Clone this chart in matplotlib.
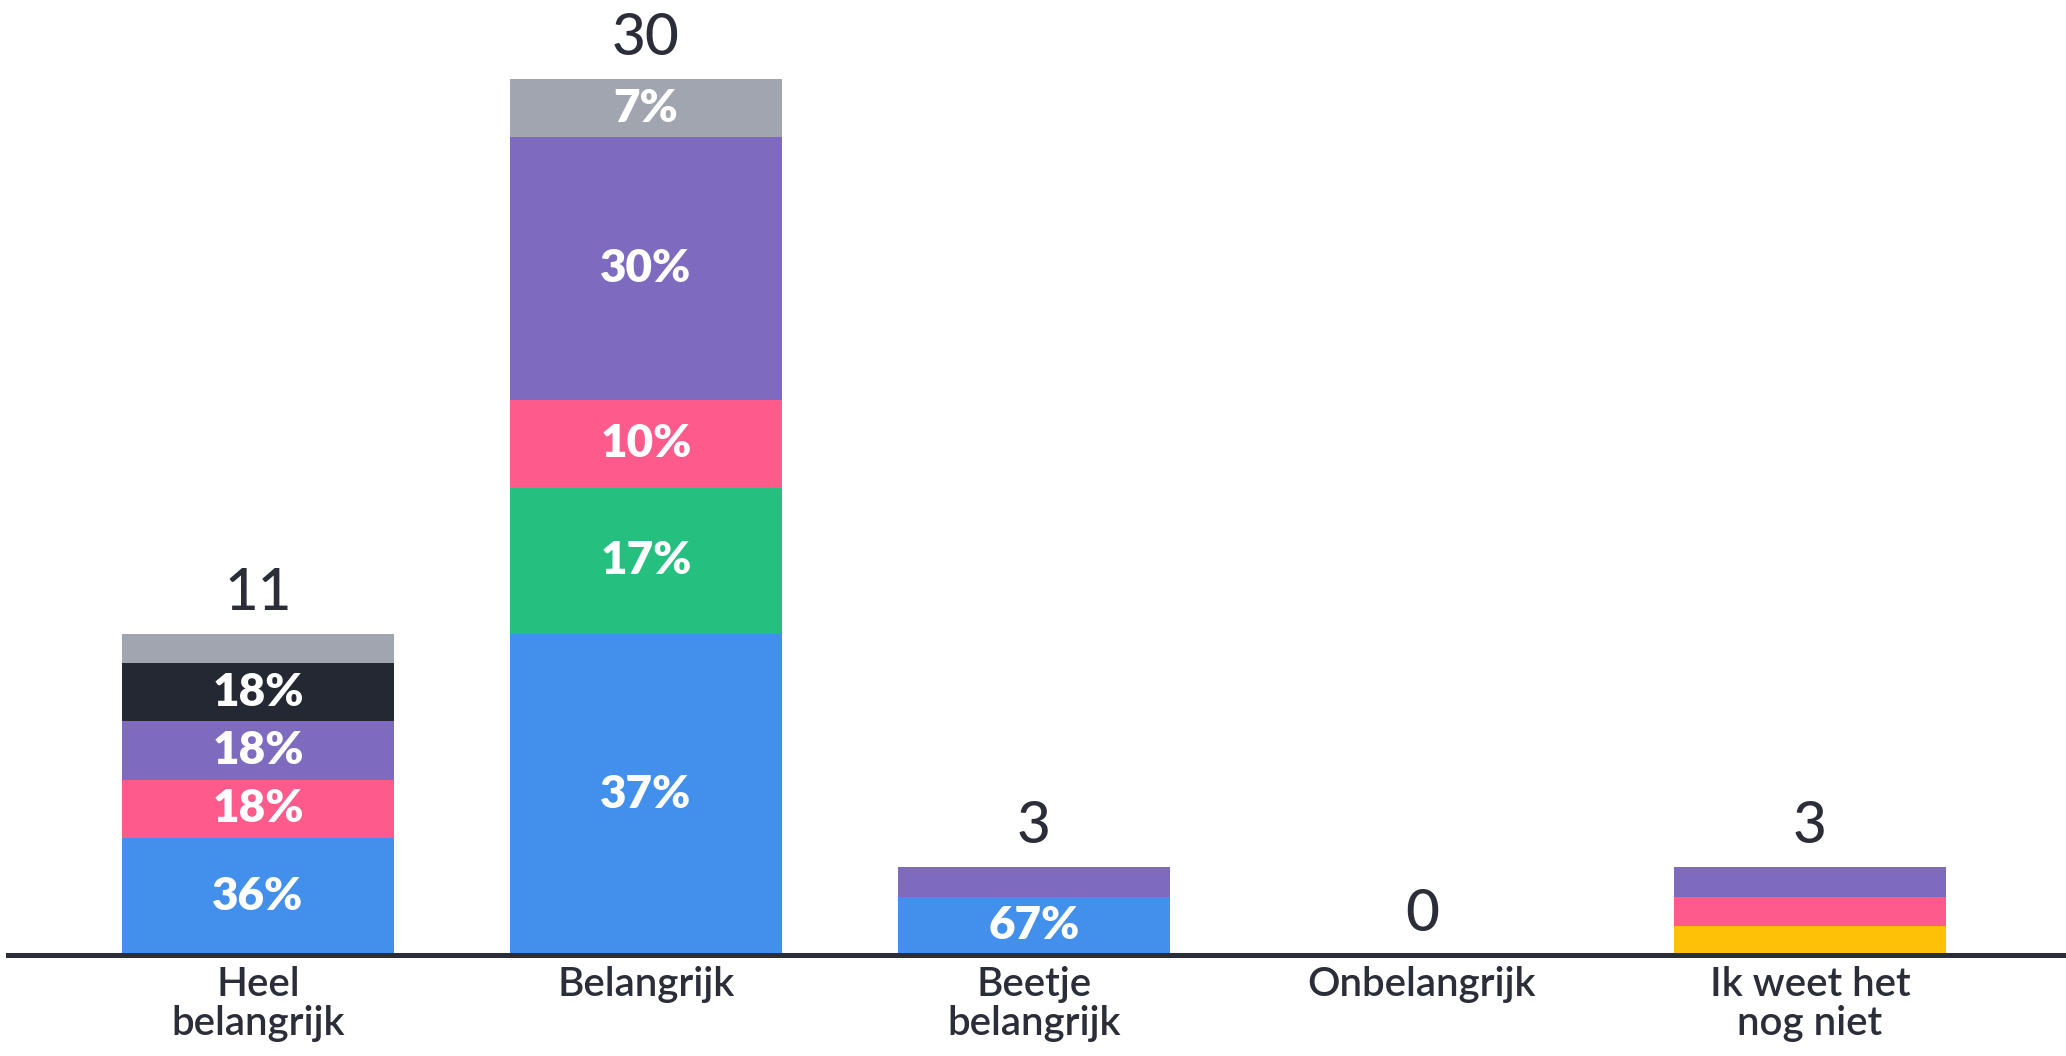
import matplotlib.pyplot as plt
import numpy as np

plt.rcParams['font.family'] = ['Lato', 'DejaVu Sans']

categories = ['Heel\nbelangrijk', 'Belangrijk', 'Beetje\nbelangrijk', 'Onbelangrijk', 'Ik weet het\nnog niet']

# answer counts per colour group, bottom to top
yellow = [0, 0, 0, 0, 1]
blue = [4, 11, 2, 0, 0]
green = [0, 5, 0, 0, 0]
pink = [2, 3, 0, 0, 1]
purple = [2, 9, 1, 0, 1]
black = [2, 0, 0, 0, 0]
gray = [1, 2, 0, 0, 0]

series = [yellow, blue, green, pink, purple, black, gray]
colors = ['#FFC107', '#4290EC', '#25C07F', '#FF5A8C', '#7E6BC0', '#232833', '#A0A5AF']

totals = np.sum(series, axis=0)
x = np.arange(len(categories))

fig = plt.figure(figsize=(20.66, 10.56), dpi=100)
ax = fig.add_axes([8/2066, 101/1056, 1 - 8/2066, 1 - 101/1056])

bottom = np.zeros(len(categories))
for vals, col in zip(series, colors):
    vals = np.array(vals)
    ax.bar(x, vals, 0.7, bottom=bottom, color=col, zorder=1)
    for i in range(len(x)):
        # only the bigger pieces get a percentage
        if vals[i] >= 2:
            pct = round(100 * vals[i] / totals[i])
            ax.text(x[i], bottom[i] + vals[i] / 2, f'{pct}%', ha='center', va='center',
                    color='white', fontsize=33, fontweight='heavy')
    bottom += vals

for i in range(len(x)):
    ax.annotate(str(totals[i]), (x[i], totals[i]), xytext=(0, 10), textcoords='offset points',
                ha='center', va='bottom', fontsize=42, fontweight='medium', color='#2B2E38')

ax.set_xlim(-0.644, 4.66)
ax.set_ylim(0, 32.7)
ax.set_xticks(x)
ax.set_xticklabels(categories, fontsize=29, fontweight='semibold', color='#2B2E38', linespacing=1.05)
ax.tick_params(axis='x', length=0, pad=8)
ax.set_yticks([])
for s in ['top', 'left', 'right']:
    ax.spines[s].set_visible(False)
ax.spines['bottom'].set_linewidth(3.6)
ax.spines['bottom'].set_color('#2B2E38')
ax.spines['bottom'].set_zorder(3)

fig.savefig('out.png', dpi=100)
